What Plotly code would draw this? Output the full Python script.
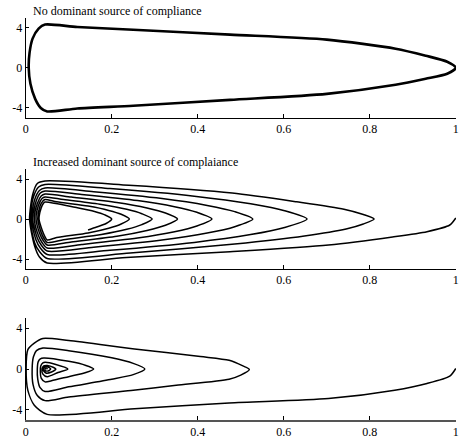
import plotly.graph_objects as go

# ---------------- data ----------------
panel_titles = ["No dominant source of compliance",
                "Increased dominant source of complaiance",
                ""]
x_ticks = [0, 0.2, 0.4, 0.6, 0.8, 1]
x_ticktext = ["0", "0.2", "0.4", "0.6", "0.8", "1"]
y_ticks = [-4, 0, 4]
y_ticktext = ["-4", "0", "4"]

# Panel 1: closed orbit
p1_x = [1.0, 0.98, 0.93, 0.86, 0.70, 0.475, 0.25, 0.12, 0.045, 0.03, 0.016, 0.009,
        0.007, 0.011, 0.022, 0.035, 0.05, 0.12, 0.25, 0.475, 0.70, 0.86, 0.93, 0.98, 1.0]
p1_y = [0, 0.6, 1.2, 1.9, 2.8, 3.3, 3.78, 4.05, 4.3, 3.9, 2.9, 1.5,
        0, -1.6, -3.1, -4.0, -4.35, -4.05, -3.78, -3.2, -2.6, -1.7, -1.1, -0.6, 0]

# Panel 2: slowly converging spiral
p2_x = [1.0, 0.986, 0.933, 0.853, 0.704, 0.475, 0.234, 0.05,
        0.032, 0.02, 0.009, 0.016, 0.027, 0.045,
        0.24, 0.48, 0.63, 0.74, 0.785, 0.81,
        0.785, 0.745, 0.648, 0.486, 0.243, 0.05,
        0.032, 0.021, 0.01, 0.018, 0.03, 0.045,
        0.196, 0.392, 0.523, 0.602, 0.654,
        0.602, 0.523, 0.392, 0.196, 0.05,
        0.034, 0.024, 0.013, 0.021, 0.032, 0.045,
        0.158, 0.317, 0.422, 0.486, 0.528,
        0.486, 0.422, 0.317, 0.158, 0.05,
        0.036, 0.027, 0.016, 0.024, 0.034, 0.045,
        0.13, 0.26, 0.346, 0.398, 0.433,
        0.398, 0.346, 0.26, 0.13, 0.05,
        0.038, 0.03, 0.02, 0.027, 0.036, 0.045,
        0.106, 0.212, 0.282, 0.325, 0.353,
        0.325, 0.282, 0.212, 0.106, 0.05,
        0.04, 0.033, 0.024, 0.03, 0.038, 0.045,
        0.088, 0.176, 0.235, 0.27, 0.294,
        0.27, 0.235, 0.176, 0.088, 0.05,
        0.042, 0.036, 0.028, 0.033, 0.04, 0.045,
        0.072, 0.145, 0.193, 0.222, 0.241,
        0.222, 0.193, 0.145, 0.072, 0.05,
        0.044, 0.039, 0.031, 0.036, 0.041, 0.045,
        0.12, 0.16, 0.184, 0.2,
        0.187, 0.165, 0.145]
p2_y = [0.1, -0.6, -1.27, -1.8, -2.6, -3.27, -3.85, -4.4,
        -3.8, -2.6, 0, 2.4, 3.55, 3.8,
        3.38, 2.6, 1.72, 0.98, 0.45, 0,
        -0.5, -1.0, -1.7, -2.5, -3.4, -3.95,
        -3.25, -2.4, 0, 2.2, 3.2, 3.45,
        3.04, 2.28, 1.52, 0.83, 0,
        -0.85, -1.56, -2.34, -3.12, -3.55,
        -2.9, -2.1, 0, 1.95, 2.85, 3.1,
        2.73, 2.05, 1.36, 0.74, 0,
        -0.77, -1.41, -2.11, -2.82, -3.2,
        -2.6, -1.9, 0, 1.75, 2.6, 2.8,
        2.46, 1.85, 1.23, 0.67, 0,
        -0.7, -1.28, -1.91, -2.55, -2.9,
        -2.35, -1.7, 0, 1.55, 2.3, 2.5,
        2.2, 1.65, 1.1, 0.6, 0,
        -0.62, -1.14, -1.72, -2.29, -2.6,
        -2.1, -1.5, 0, 1.4, 2.05, 2.2,
        1.94, 1.45, 0.97, 0.53, 0,
        -0.56, -1.03, -1.55, -2.07, -2.35,
        -1.9, -1.35, 0, 1.25, 1.8, 1.95,
        1.72, 1.29, 0.86, 0.47, 0,
        -0.5, -0.92, -1.39, -1.85, -2.1,
        -1.7, -1.2, 0, 1.1, 1.55, 1.7,
        1.12, 0.75, 0.41, 0,
        -0.45, -0.8, -1.1]

# Panel 3: fast converging spiral
p3_x = [1.0, 0.986, 0.933, 0.858, 0.704, 0.473, 0.253, 0.05,
        0.02, 0.005, 0.001, 0.005, 0.02, 0.04,
        0.1, 0.253, 0.406, 0.473, 0.505, 0.52,
        0.5, 0.473, 0.35, 0.245, 0.1, 0.045,
        0.027, 0.017, 0.015, 0.018, 0.025, 0.04,
        0.1, 0.2, 0.25, 0.277,
        0.25, 0.2, 0.1, 0.045,
        0.033, 0.028, 0.027, 0.029, 0.034, 0.042,
        0.1, 0.14, 0.158,
        0.14, 0.1, 0.06, 0.045,
        0.036, 0.034, 0.035, 0.04, 0.045,
        0.07, 0.098,
        0.075, 0.05,
        0.04, 0.038, 0.042, 0.05,
        0.065, 0.07, 0.06, 0.047, 0.041, 0.044, 0.052, 0.058, 0.052, 0.045, 0.046, 0.05, 0.048]
p3_y = [0.05, -0.7, -1.42, -2.08, -2.9, -3.33, -3.9, -4.45,
        -3.56, -2.1, 0, 1.9, 2.54, 3.0,
        2.8, 1.97, 1.22, 0.85, 0.3, -0.05,
        -0.6, -1.0, -1.6, -2.1, -2.75, -3.1,
        -2.6, -1.5, 0, 1.2, 1.8, 2.05,
        1.8, 1.1, 0.55, 0,
        -0.55, -1.0, -1.75, -2.2,
        -1.8, -1.0, 0, 0.7, 1.0, 1.08,
        0.75, 0.35, 0,
        -0.35, -0.75, -1.15, -1.26,
        -0.9, -0.3, 0.3, 0.6, 0.65,
        0.45, 0,
        -0.35, -0.75,
        -0.5, 0, 0.3, 0.35,
        0.15, 0, -0.3, -0.4, -0.1, 0.2, 0.2, 0, -0.2, -0.15, 0.1, 0.05, 0]

panels = [(p1_x, p1_y, 2.6), (p2_x, p2_y, 1.5), (p3_x, p3_y, 1.5)]

# ---------------- figure ----------------
W, H = 460, 445
fig = go.Figure()

# plot-area pixel boxes (top, bottom)
boxes = [(17.5, 118), (169, 269), (318, 420)]
x_left, x_right = 23, 459
title_py = [11, 162, None]
font_fam = "Liberation Serif, Times New Roman, serif"

for i, ((xs, ys, lw), (top, bot)) in enumerate(zip(panels, boxes)):
    n = "" if i == 0 else str(i + 1)
    fig.add_trace(go.Scatter(x=xs, y=ys, mode="lines",
                             line=dict(color="black", width=lw, shape="spline", smoothing=0.7),
                             xaxis="x" + n, yaxis="y" + n, showlegend=False,
                             hoverinfo="skip"))
    axis_col = "black" if i < 2 else "#555555"
    axis_w = 1 if i < 2 else 2
    fig.update_layout(**{
        "xaxis" + n: dict(domain=[x_left / W, x_right / W], range=[0, 1.0005],
                          anchor="y" + n, showgrid=False, zeroline=False,
                          showline=True, linecolor=axis_col, linewidth=axis_w,
                          ticks="inside", ticklen=4, tickcolor="black",
                          tickmode="array", tickvals=x_ticks, ticktext=x_ticktext,
                          ticklabeloverflow="allow",
                          tickfont=dict(family=font_fam, size=12, color="black")),
        "yaxis" + n: dict(domain=[(H - bot) / H, (H - top) / H], range=[-5, 5],
                          anchor="x" + n, showgrid=False, zeroline=False,
                          showline=True, linecolor="black", linewidth=1,
                          ticks="inside", ticklen=3, tickcolor="black",
                          tickmode="array", tickvals=y_ticks, ticktext=y_ticktext,
                          ticklabelstandoff=0,
                          tickfont=dict(family=font_fam, size=12, color="black")),
    })
    if panel_titles[i]:
        fig.add_annotation(text=panel_titles[i], xref="paper", yref="paper",
                           x=28 / W, y=(H - title_py[i]) / H, xanchor="left", yanchor="middle",
                           showarrow=False, font=dict(family=font_fam, size=12, color="black"))

fig.update_layout(width=W, height=H, margin=dict(l=0, r=0, t=0, b=0),
                  paper_bgcolor="white", plot_bgcolor="white")
fig.write_html("out.html")
